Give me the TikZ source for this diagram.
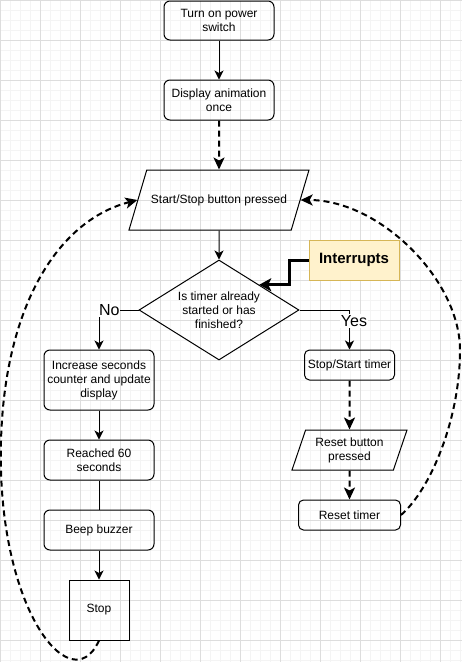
\documentclass[tikz,border=0pt]{standalone}
\usepackage{fontspec}
\setmainfont{Liberation Sans}
\usetikzlibrary{shapes.geometric,arrows.meta}
\definecolor{gridmin}{HTML}{F4F4F4}
\definecolor{gridmaj}{HTML}{DDDDDD}
\definecolor{notefill}{HTML}{FFF2CC}
\definecolor{notedraw}{HTML}{D6B656}
\tikzset{
  txt/.style={font=\fontsize{12}{14}\selectfont, align=center},
  rbox/.style={txt, draw, line width=1pt, rounded corners=6pt, inner sep=1pt},
  sbox/.style={txt, draw, line width=1pt, inner sep=1pt},
  para/.style={txt, draw, line width=1pt, trapezium, trapezium stretches body, inner sep=1pt},
  dec/.style={txt, draw, line width=1pt, diamond, aspect=1.6, inner sep=0pt},
  tag/.style={draw=notedraw, fill=notefill, line width=1pt, font=\fontsize{15}{18}\selectfont\bfseries},
  lbl/.style={font=\fontsize{16}{18}\selectfont, fill=white, inner sep=1pt},
  flow/.style={line width=1pt, -{Stealth[length=9pt,width=9pt,inset=2.5pt]}},
  dflow/.style={line width=2pt, dash pattern=on 6pt off 4pt, -{Stealth[length=12pt,width=11pt,inset=3pt]}},
}
\begin{document}
\begin{tikzpicture}[x=1pt,y=-1pt]
    \useasboundingbox (0,0) rectangle (462,662);
    % background grid
    \foreach \g in {0,10,...,460} \draw[gridmin, line width=1pt] (\g,0) -- (\g,662);
    \foreach \g in {0,10,...,660} \draw[gridmin, line width=1pt] (0,\g) -- (462,\g);
    \foreach \g in {0,40,...,440} \draw[gridmaj, line width=1pt] (\g,0) -- (\g,662);
    \foreach \g in {0,40,...,640} \draw[gridmaj, line width=1pt] (0,\g) -- (462,\g);

    \node[rbox, minimum width=110pt, minimum height=39pt] (T) at (219,20.5) {Turn on power\\switch};
    \node[rbox, minimum width=110pt, minimum height=40pt] (D) at (219,100) {Display animation\\once};
    \node[para, inner ysep=24pt, trapezium left angle=73.3, trapezium right angle=106.7,
          minimum width=180pt, minimum height=60pt] (S) at (219,200) {Start/Stop button pressed};
    \node[dec, minimum width=160pt, minimum height=100pt] (Q) at (219,310) {Is timer already\\started or has\\finished?};
    \node[tag, minimum width=90pt, minimum height=40pt] (I) at (354,260) {Interrupts};

    \node[rbox, minimum width=110pt, minimum height=60pt] (A) at (99,380) {Increase seconds\\counter and update\\display};
    \node[rbox, minimum width=110pt, minimum height=40pt] (B) at (99,460) {Reached 60\\seconds};
    \node[rbox, minimum width=110pt, minimum height=40pt] (C) at (99,530) {Beep buzzer};
    \node[sbox, minimum width=60pt, minimum height=60pt] (E) at (99,610) {Stop};

    \node[rbox, rounded corners=5pt, minimum width=90pt, minimum height=30pt] (R) at (349.5,365) {Stop/Start timer};
    \node[para, trapezium left angle=63.4, trapezium right angle=116.6,
          minimum width=115pt, minimum height=40pt] (P) at (349.5,450) {Reset button\\pressed};
    \node[rbox, rounded corners=5pt, minimum width=102pt, minimum height=30pt] (U) at (349.5,515) {Reset timer};

    \coordinate (Lbend) at (2,420);
    \coordinate (Rbend) at (460,350);

    \draw[flow] (T.south) -- (D.north);
    \draw[dflow] (D.south) -- (S.north);
    \draw[flow] (S.south) -- (Q.north);
    \draw[line width=3pt, -{Stealth[length=12pt,width=13pt,inset=3pt]}] (I.west) -- ++(-19,0) |- (Q.north east);
    \draw[flow] (Q.west) -| node[lbl, pos=0.37] {No} (A.north);
    \draw[flow] (Q.east) -| node[lbl, pos=0.64, xshift=4.5pt] {Yes} (R.north);
    \draw[flow] (A.south) -- (B.north);
    \draw[line width=1pt] (B.south) -- (C.north);
    \draw[flow] (C.south) -- (E.north);
    \draw[dflow] (R.south) -- (P.north);
    \draw[dflow] (P.south) -- (U.north);
    \draw[dflow] (E.south) .. controls (70,705) and (-10,600) .. (Lbend)
                 .. controls (10,300) and (60,220) .. (S.left side);
    \draw[dflow] (U.east) .. controls (430,490) and (460,420) .. (Rbend)
                 .. controls (460,280) and (380,200) .. (S.right side);
\end{tikzpicture}
\end{document}
